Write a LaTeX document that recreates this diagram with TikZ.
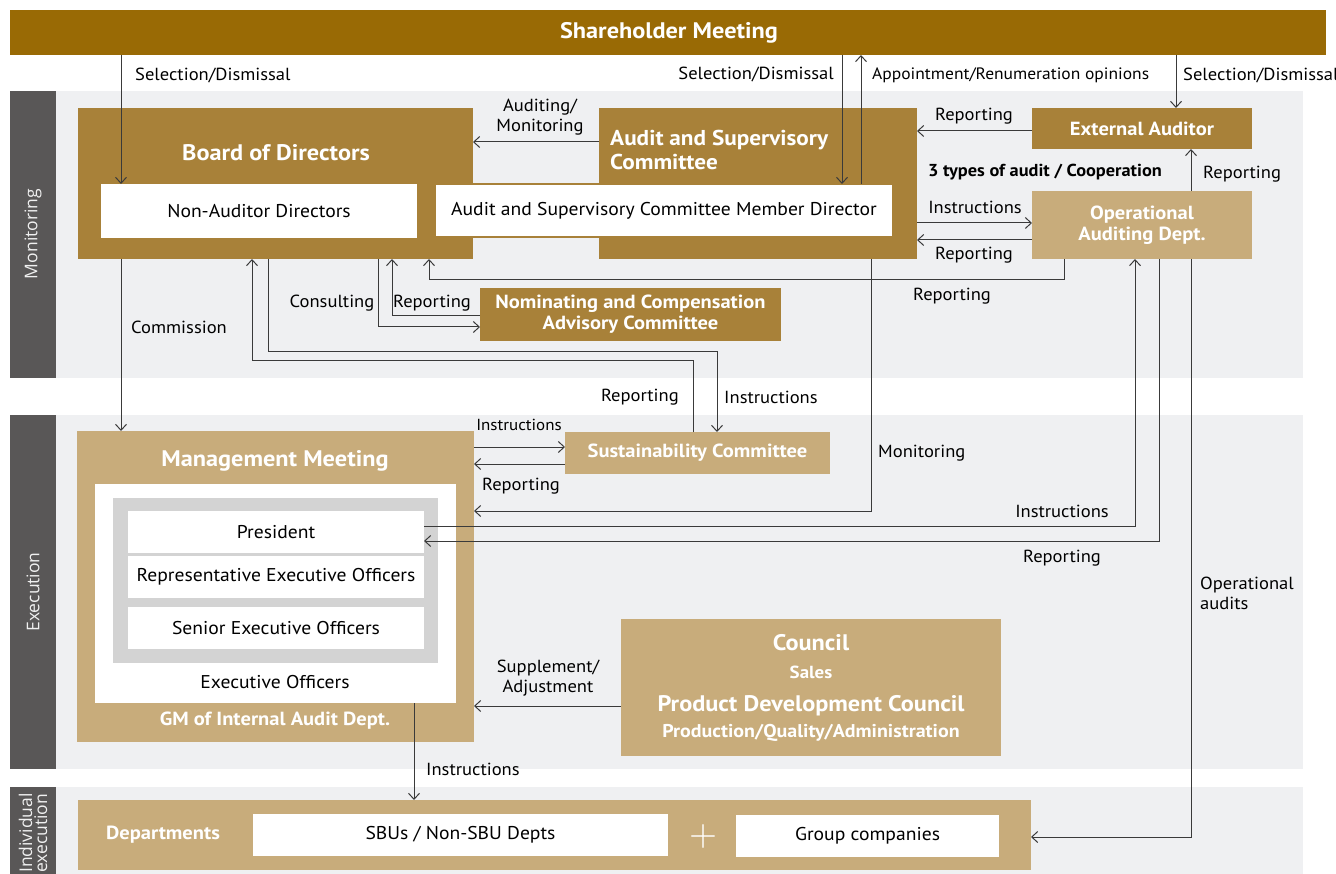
\documentclass[tikz,border=0pt]{standalone}
\usepackage{fontspec}
\setmainfont{PT Sans}[FakeStretch=1.06]
\newfontfamily\hfont{PT Sans}[FakeStretch=1.08]
\newfontfamily\sidefont{Open Sans}
\newfontfamily\plusfont{lmsans10-regular.otf}
\usetikzlibrary{arrows.meta,calc}

\definecolor{goldDark}{HTML}{996A05}
\definecolor{goldMid}{HTML}{A88139}
\definecolor{goldLight}{HTML}{C8AC7B}
\definecolor{bandGray}{HTML}{EFF0F2}
\definecolor{sideGray}{HTML}{595757}
\definecolor{innerGray}{HTML}{D3D3D3}
\definecolor{lineGray}{HTML}{3A3A3A}

\tikzset{
  box/.style={anchor=north west, inner sep=0pt, outer sep=0pt, draw=none},
  ttl/.style={font=\hfont\bfseries\fontsize{22.5}{24}\selectfont, text=white, inner sep=0pt},
  sub/.style={font=\hfont\bfseries\fontsize{19}{21}\selectfont, text=white, inner sep=0pt, align=center},
  txt/.style={font=\fontsize{18.5}{20}\selectfont, text=black, inner sep=0pt},
  lbl/.style={font=\fontsize{17.5}{20}\selectfont, text=black, inner sep=0pt, align=center},
  side/.style={font=\sidefont\fontsize{17.5}{15}\selectfont, text=white!94!black, rotate=90, inner sep=0pt, align=left},
  arr/.style={draw=lineGray, line width=1pt, -{Straight Barb[length=6pt,width=11pt,line width=1pt]}},
}

\begin{document}
\begin{tikzpicture}[x=1pt,y=-1pt]
\useasboundingbox (0,0) rectangle (1336,874);

% ---- bands ----
\fill[bandGray] (56,91) rectangle (1303,378);
\fill[bandGray] (56,415) rectangle (1303,769);
\fill[bandGray] (56,787) rectangle (1303,874);
\fill[sideGray] (10,91) rectangle (56,378);
\fill[sideGray] (10,415) rectangle (56,769);
\fill[sideGray] (10,787) rectangle (56,874);
\node[side] (sMon) at (33,234) {Monitoring};
\node[side] (sExe) at (33,592) {Execution};
\node[side] (sInd) at (33,833) {Individual\\execution};

% ---- shareholder meeting ----
\node[box, fill=goldDark, minimum width=1316pt, minimum height=45pt] (sh) at (10,10) {};
\node[ttl] at (669,33) {Shareholder Meeting};

% ---- board of directors ----
\node[box, fill=goldMid, minimum width=395pt, minimum height=151pt] (bod) at (78,108) {};
\node[ttl] at (276,153) {Board of Directors};
\node[box, fill=white, minimum width=316pt, minimum height=54pt] (nad) at (101,184) {};
\node[txt] at (nad.center) {Non-Auditor Directors};

% ---- audit and supervisory committee ----
\node[box, fill=goldMid, minimum width=318pt, minimum height=151pt] (asc) at (599,108) {};
\node[ttl, anchor=west, align=left, font=\hfont\bfseries\fontsize{21.5}{24}\selectfont] at (610,150) {Audit and Supervisory\\Committee};
\node[box, fill=white, draw=goldMid, line width=1.2pt, minimum width=458pt, minimum height=53pt] (asd) at (435,184) {};
\node[txt] at (asd.center) {Audit and Supervisory Committee Member Director};

% ---- external auditor / operational auditing ----
\node[box, fill=goldMid, minimum width=220pt, minimum height=41pt] (ea) at (1032,108) {};
\node[sub] at (ea.center) {External Auditor};
\node[box, fill=goldLight, minimum width=220pt, minimum height=68pt] (oad) at (1032,191) {};
\node[sub] at (oad.center) {Operational\\Auditing Dept.};
\node[lbl, font=\bfseries\fontsize{17.3}{20}\selectfont] at (1045,172) {3 types of audit / Cooperation};

% ---- nominating committee ----
\node[box, fill=goldMid, minimum width=301pt, minimum height=53pt] (ncac) at (480,288) {};
\node[sub] at (ncac.center) {Nominating and Compensation\\Advisory Committee};

% ---- management meeting ----
\node[box, fill=goldLight, minimum width=397pt, minimum height=311pt] (mm) at (77,431) {};
\node[ttl] at (275,461) {Management Meeting};
\node[box, fill=white, minimum width=361pt, minimum height=219pt] (mmw) at (95,484) {};
\node[box, fill=innerGray, minimum width=325pt, minimum height=165pt] (mmg) at (113,498) {};
\node[box, fill=white, minimum width=296pt, minimum height=42pt] (pres) at (128,511) {};
\node[txt] at (pres.center) {President};
\node[box, fill=white, minimum width=296pt, minimum height=42pt] (rep) at (128,556) {};
\node[txt] at (rep.center) {Representative Executive Officers};
\node[box, fill=white, minimum width=296pt, minimum height=42pt] (sen) at (128,607) {};
\node[txt] at (sen.center) {Senior Executive Officers};
\node[txt] at (275,682) {Executive Officers};
\node[sub] at (275,721) {GM of Internal Audit Dept.};

% ---- sustainability committee ----
\node[box, fill=goldLight, minimum width=265pt, minimum height=42pt] (sc) at (565,432) {};
\node[sub] at (sc.center) {Sustainability Committee};

% ---- councils ----
\node[box, fill=goldLight, minimum width=380pt, minimum height=137pt] (council) at (621,619) {};
\node[ttl] at (811,643) {Council};
\node[sub, font=\hfont\bfseries\fontsize{17.5}{20}\selectfont] at (811,672) {Sales};
\node[ttl] at (811,706) {Product Development Council};
\node[sub, font=\hfont\bfseries\fontsize{18.5}{20}\selectfont] at (811,733) {Production/Quality/Administration};

% ---- departments ----
\node[box, fill=goldLight, minimum width=953pt, minimum height=70pt] (dept) at (78,800) {};
\node[sub] at (163,835) {Departments};
\node[box, fill=white, minimum width=415pt, minimum height=42pt] (sbu) at (253,814) {};
\node[txt] at (sbu.center) {SBUs / Non-SBU Depts};
\node[txt, text=white, font=\plusfont\fontsize{36}{36}\selectfont] at (703,836) {+};
\node[box, fill=white, minimum width=263pt, minimum height=42pt] (grp) at (736,815) {};
\node[txt] at (grp.center) {Group companies};

% ---- routing points ----
\coordinate (cSelBod) at (121,0);
\coordinate (cSelAsd) at (842,0);
\coordinate (cOpin) at (861,0);
\coordinate (cSelEa) at (1176,0);
\coordinate (cAudit) at (0,142);
\coordinate (cEaRep) at (0,131);
\coordinate (cOadRep) at (1191,0);
\coordinate (cInstr) at (0,223);
\coordinate (cRep) at (0,240);
\coordinate (cOb1) at (1064,280);
\coordinate (cOb2) at (429,0);
\coordinate (cCons) at (378,327);
\coordinate (cNrep) at (392,316);
\coordinate (cBs1) at (268,352);
\coordinate (cBs2) at (717,352);
\coordinate (cSb1) at (693,361);
\coordinate (cSb2) at (252,361);
\coordinate (cMs) at (0,447);
\coordinate (cSm) at (0,464);
\coordinate (cMon) at (871,511);
\coordinate (cPi) at (1135,526);
\coordinate (cPr) at (1159,541);
\coordinate (cOa) at (1191,837);
\coordinate (cSup) at (0,706);
\coordinate (cDep) at (414,0);

% ---- connectors ----
\draw[arr] (sh.south -| cSelBod) -- (nad.north -| cSelBod);
\draw[arr] (bod.south -| cSelBod) -- (mm.north -| cSelBod);
\draw[arr] (sh.south -| cSelAsd) -- (asd.north -| cSelAsd);
\draw[arr] (asd.north -| cOpin) -- (sh.south -| cOpin);
\draw[arr] (sh.south -| cSelEa) -- (ea.north -| cSelEa);
\draw[arr] (asc.west |- cAudit) -- (bod.east |- cAudit);
\draw[arr] (ea.west |- cEaRep) -- (asc.east |- cEaRep);
\draw[arr] (oad.north -| cOadRep) -- (ea.south -| cOadRep);
\draw[arr] (asc.east |- cInstr) -- (oad.west |- cInstr);
\draw[arr] (oad.west |- cRep) -- (asc.east |- cRep);
\draw[arr] (oad.south -| cOb1) -- (cOb1) -| (bod.south -| cOb2);
\draw[arr] (bod.south -| cCons) -- (cCons) -- (ncac.west |- cCons);
\draw[arr] (ncac.west |- cNrep) -- (cNrep) -- (bod.south -| cNrep);
\draw[arr] (bod.south -| cBs1) -- (cBs1) -- (cBs2) -- (sc.north -| cBs2);
\draw[arr] (sc.north -| cSb1) -- (cSb1) -- (cSb2) -- (bod.south -| cSb2);
\draw[arr] (mm.east |- cMs) -- (sc.west |- cMs);
\draw[arr] (sc.west |- cSm) -- (mm.east |- cSm);
\draw[arr] (asc.south -| cMon) -- (cMon) -- (mm.east |- cMon);
\draw[arr] (pres.east |- cPi) -- (cPi) -- (oad.south -| cPi);
\draw[arr] (oad.south -| cPr) -- (cPr) -- (pres.east |- cPr);
\draw[arr] (oad.south -| cOa) -- (cOa) -- (dept.east |- cOa);
\draw[arr] (council.west |- cSup) -- (mm.east |- cSup);
\draw[arr] (mmw.south -| cDep) -- (dept.north -| cDep);

% ---- connector labels ----
\node[lbl, anchor=west] at (135,75) {Selection/Dismissal};
\node[lbl, anchor=east] at (834,74) {Selection/Dismissal};
\node[lbl, anchor=west, font=\fontsize{16.5}{20}\selectfont] at (872,75) {Appointment/Renumeration opinions};
\node[lbl, anchor=west] at (1183,75) {Selection/Dismissal};
\node[lbl] at (540,117) {Auditing/\\Monitoring};
\node[lbl] at (974,116) {Reporting};
\node[lbl, anchor=west] at (1203,174) {Reporting};
\node[lbl] at (975,207) {Instructions};
\node[lbl] at (974,255) {Reporting};
\node[lbl] at (952,296) {Reporting};
\node[lbl] at (332,303) {Consulting};
\node[lbl] at (432,303) {Reporting};
\node[lbl, anchor=west] at (131,327) {Commission};
\node[lbl, anchor=east] at (679,397) {Reporting};
\node[lbl, anchor=west] at (724,397) {Instructions};
\node[lbl, font=\fontsize{16}{18}\selectfont] at (519,425) {Instructions};
\node[lbl] at (521,486) {Reporting};
\node[lbl, anchor=west] at (878,453) {Monitoring};
\node[lbl] at (1062,511) {Instructions};
\node[lbl] at (1062,558) {Reporting};
\node[lbl, anchor=west, align=left] at (1200,593) {Operational\\audits};
\node[lbl] at (548,678) {Supplement/\\Adjustment};
\node[lbl, anchor=west] at (426,769) {Instructions};
\end{tikzpicture}
\end{document}
